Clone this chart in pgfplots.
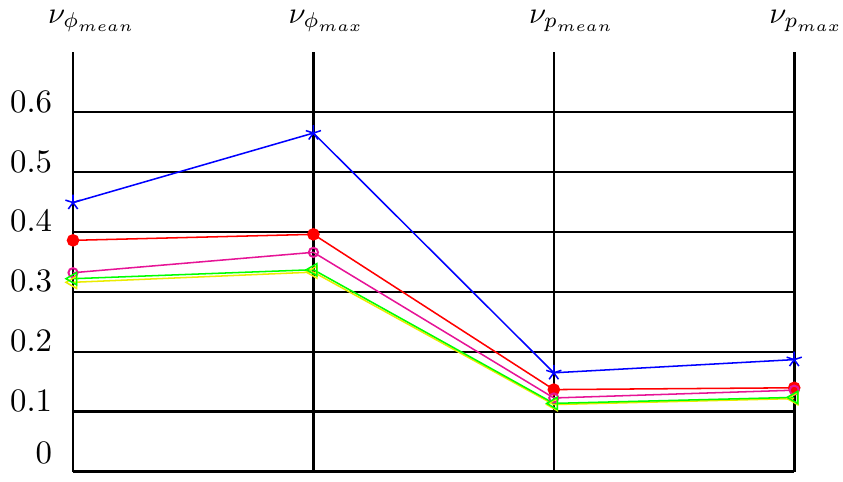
\documentclass[border=0pt]{standalone}
\usepackage{pgfplots}
\pgfplotsset{compat=1.18}
\definecolor{pinkline}{RGB}{230,20,150}
\definecolor{yellowline}{RGB}{235,235,0}
\begin{document}
\begin{tikzpicture}
\begin{axis}[
	scale only axis,width=235.5pt,height=137pt,
	xmin=0,xmax=3,ymin=0,ymax=0.7,
	axis line style={draw=none},
	xtick={0,1,2,3},
	xticklabels={$\nu_{\phi_{mean}}$,$\nu_{\phi_{max}}$,$\nu_{p_{mean}}$,$\nu_{p_{max}}$},
	xticklabel pos=upper,
	xticklabel style={font=\fontsize{10}{12}\selectfont,anchor=south west,inner xsep=0pt,xshift=-8.3pt,yshift=3pt},
	ytick={0,0.1,0.2,0.3,0.4,0.5,0.6},
	yticklabels={\raisebox{2.6pt}{0},0.1,0.2,0.3,0.4,0.5,0.6},
	yticklabel style={font=\fontsize{10.7}{13}\selectfont,anchor=base east,xshift=-3.3pt},
	major tick length=0pt,
	grid=major,grid style={black,line width=0.85pt},
	after end axis/.code={\path (rel axis cs:0,0) ++(0,-0.9pt);},
	clip=false]
\addplot[blue,line width=0.5pt,mark=star,mark size=2.6pt]
	coordinates {(0,0.449) (1,0.565) (2,0.165) (3,0.187)};
\addplot[red,line width=0.5pt,mark=*,mark size=1.8pt]
	coordinates {(0,0.386) (1,0.396) (2,0.137) (3,0.140)};
\addplot[pinkline,line width=0.5pt,mark=o,mark size=1.5pt,mark options={line width=0.65pt}]
	coordinates {(0,0.332) (1,0.366) (2,0.123) (3,0.136)};
\addplot[yellowline,line width=0.5pt,mark=triangle,mark size=2.3pt,mark options={rotate=90}]
	coordinates {(0,0.316) (1,0.333) (2,0.112) (3,0.122)};
\addplot[green,line width=0.5pt,mark=triangle,mark size=2.3pt,mark options={rotate=90}]
	coordinates {(0,0.322) (1,0.337) (2,0.114) (3,0.124)};
\end{axis}
\end{tikzpicture}
\end{document}
